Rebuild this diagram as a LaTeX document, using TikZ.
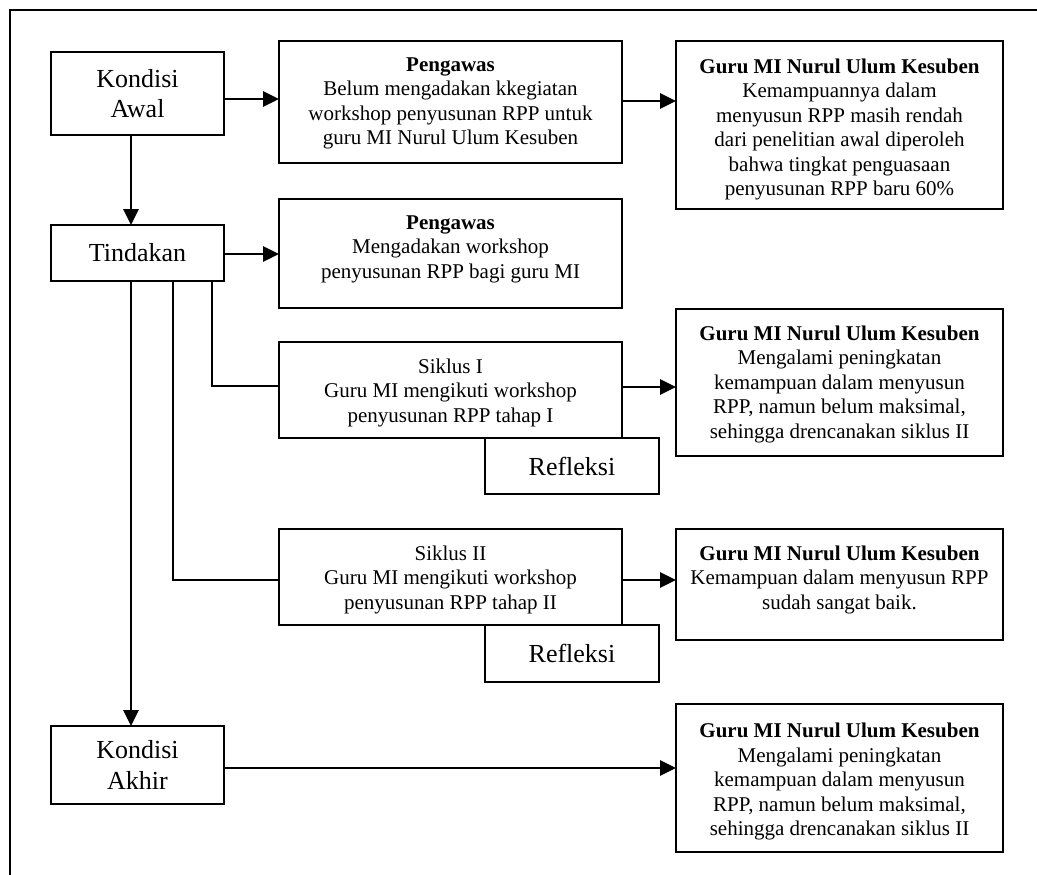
\documentclass[tikz,border=0pt]{standalone}
\usepackage{fontspec}
\setmainfont{Liberation Serif}
\usetikzlibrary{arrows.meta}
\begin{document}
\begin{tikzpicture}[x=1pt,y=-1pt,
  box/.style={draw,line width=2pt,rectangle,inner sep=0pt,outer sep=0pt,fill=white},
  big/.style={font=\fontsize{26}{30.5}\selectfont,align=center},
  small/.style={font=\fontsize{21}{24.5}\selectfont,align=center,inner sep=0pt},
  conn/.style={line width=2pt},
  arr/.style={line width=2.8pt,-{Triangle[length=16pt,width=15pt]}},
  framestyle/.style={line width=2pt}]
\useasboundingbox (0,0) rectangle (1037,875);
\draw[framestyle] (10,877) -- (10,10) -- (1039,10);

% left column
\node[box,big,minimum width=173pt,minimum height=83pt] (ka) at (137.5,93.5) {Kondisi\\Awal};
\node[box,big,minimum width=173pt,minimum height=56pt] (t) at (137.5,253) {Tindakan};
\node[box,big,minimum width=173pt,minimum height=78pt] (kk) at (137.5,765) {Kondisi\\Akhir};

% middle column
\node[box,minimum width=343pt,minimum height=122pt] (p1) at (450.5,102) {};
\node[small,anchor=north] (p1t) at ([yshift=-16.5pt]p1.north) {\textbf{Pengawas}\\Belum mengadakan kkegiatan\\workshop penyusunan RPP untuk\\guru MI Nurul Ulum Kesuben};
\node[box,minimum width=343pt,minimum height=109pt] (p2) at (450.5,253.5) {};
\node[small,anchor=north] (p2t) at ([yshift=-16.5pt]p2.north) {\textbf{Pengawas}\\Mengadakan workshop\\penyusunan RPP bagi guru MI};
\node[box,minimum width=343pt,minimum height=96pt] (s1) at (450.5,390) {};
\node[small,anchor=north] (s1t) at ([yshift=-16.5pt]s1.north) {Siklus I\\Guru MI mengikuti workshop\\penyusunan RPP tahap I};
\node[box,big,minimum width=174pt,minimum height=56pt] (r1) at (572,466) {Refleksi};
\node[box,minimum width=343pt,minimum height=96pt] (s2) at (450.5,577) {};
\node[small,anchor=north] (s2t) at ([yshift=-16.5pt]s2.north) {Siklus II\\Guru MI mengikuti workshop\\penyusunan RPP tahap II};
\node[box,big,minimum width=174pt,minimum height=57pt] (r2) at (572,653.5) {Refleksi};

% right column
\node[box,minimum width=327pt,minimum height=168pt] (g1) at (839.5,125) {};
\node[small,anchor=north] (g1t) at ([yshift=-17.5pt]g1.north) {\textbf{Guru MI Nurul Ulum Kesuben}\\Kemampuannya dalam\\menyusun RPP masih rendah\\dari penelitian awal diperoleh\\bahwa tingkat penguasaan\\penyusunan RPP baru 60\%};
\node[box,minimum width=327pt,minimum height=147pt] (g2) at (839.5,382.5) {};
\node[small,anchor=north] (g2t) at ([yshift=-16.5pt]g2.north) {\textbf{Guru MI Nurul Ulum Kesuben}\\Mengalami peningkatan\\kemampuan dalam menyusun\\RPP, namun belum maksimal,\\sehingga drencanakan siklus II};
\node[box,minimum width=327pt,minimum height=111pt] (g3) at (839.5,584.5) {};
\node[small,anchor=north] (g3t) at ([yshift=-16.5pt]g3.north) {\textbf{Guru MI Nurul Ulum Kesuben}\\Kemampuan dalam menyusun RPP\\sudah sangat baik.};
\node[box,minimum width=327pt,minimum height=148pt] (g4) at (839.5,778) {};
\node[small,anchor=north] (g4t) at ([yshift=-19pt]g4.north) {\textbf{Guru MI Nurul Ulum Kesuben}\\Mengalami peningkatan\\kemampuan dalam menyusun\\RPP, namun belum maksimal,\\sehingga drencanakan siklus II};

% connectors
\draw[arr] (ka.east |- 0,99) -- (p1.west |- 0,99);
\draw[arr] (p1.east |- 0,101) -- (g1.west |- 0,101);
\draw[arr] (ka.south -| 131,0) -- (t.north -| 131,0);
\draw[arr] (t.east |- 0,254) -- (p2.west |- 0,254);
\draw[conn] (t.south -| 212,0) |- (s1.west |- 0,386);
\draw[arr] (s1.east |- 0,387) -- (g2.west |- 0,387);
\draw[conn] (t.south -| 173,0) |- (s2.west |- 0,580);
\draw[arr] (s2.east |- 0,580) -- (g3.west |- 0,580);
\draw[arr] (t.south -| 131,0) -- (kk.north -| 131,0);
\draw[arr] (kk.east |- 0,768) -- (g4.west |- 0,768);
\end{tikzpicture}
\end{document}
